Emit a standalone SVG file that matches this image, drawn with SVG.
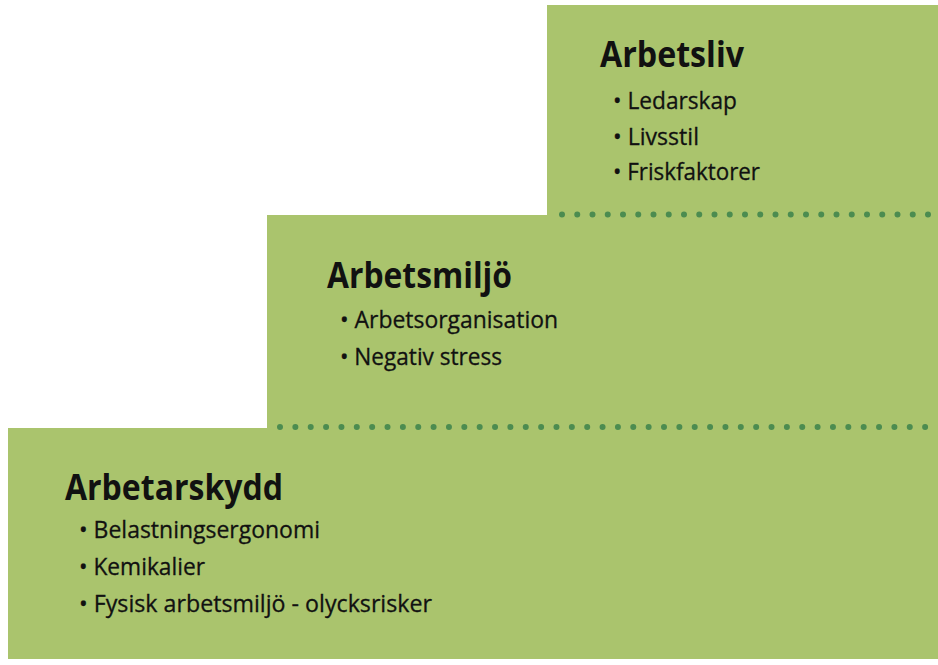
<svg xmlns="http://www.w3.org/2000/svg" width="938" height="665" viewBox="0 0 938 665">
<style>
.tier{fill:#aac46d}
.dots{fill:none;stroke:#4c8c50;stroke-width:6;stroke-linecap:round}
.title{font-family:"Open Sans","Noto Sans",sans-serif;font-weight:700;font-size:35px;fill:#111}
.item{font-family:"Open Sans","Noto Sans",sans-serif;font-size:24px;fill:#111;stroke:#111;stroke-width:0.3}
</style>
<rect width="938" height="665" fill="#ffffff"/>
<g id="tier-arbetarskydd">
<rect class="tier" x="8" y="428" width="930" height="231"/>
<text class="title" x="65" y="500" textLength="218" lengthAdjust="spacingAndGlyphs">Arbetarskydd</text>
<text class="item" x="79" y="538" textLength="241" lengthAdjust="spacingAndGlyphs">• Belastningsergonomi</text>
<text class="item" x="79" y="575" textLength="126" lengthAdjust="spacingAndGlyphs">• Kemikalier</text>
<text class="item" x="79" y="612" textLength="353" lengthAdjust="spacingAndGlyphs">• Fysisk arbetsmiljö - olycksrisker</text>
</g>
<g id="tier-arbetsmiljo">
<rect class="tier" x="267" y="215" width="671" height="214"/>
<text class="title" x="327" y="288" textLength="185" lengthAdjust="spacingAndGlyphs">Arbetsmiljö</text>
<text class="item" x="340" y="328" textLength="218" lengthAdjust="spacingAndGlyphs">• Arbetsorganisation</text>
<text class="item" x="340" y="365" textLength="162" lengthAdjust="spacingAndGlyphs">• Negativ stress</text>
</g>
<g id="tier-arbetsliv">
<rect class="tier" x="547" y="5" width="391" height="211"/>
<text class="title" x="600" y="67" textLength="144" lengthAdjust="spacingAndGlyphs">Arbetsliv</text>
<text class="item" x="613" y="109" textLength="124" lengthAdjust="spacingAndGlyphs">• Ledarskap</text>
<text class="item" x="613" y="145" textLength="86" lengthAdjust="spacingAndGlyphs">• Livsstil</text>
<text class="item" x="613" y="180" textLength="147" lengthAdjust="spacingAndGlyphs">• Friskfaktorer</text>
</g>
<g id="dividers">
<line class="dots" x1="562" y1="214.5" x2="940" y2="214.5" stroke-dasharray="0 15.25"/>
<line class="dots" x1="280" y1="427" x2="940" y2="427" stroke-dasharray="0 15.36"/>
</g>
</svg>
